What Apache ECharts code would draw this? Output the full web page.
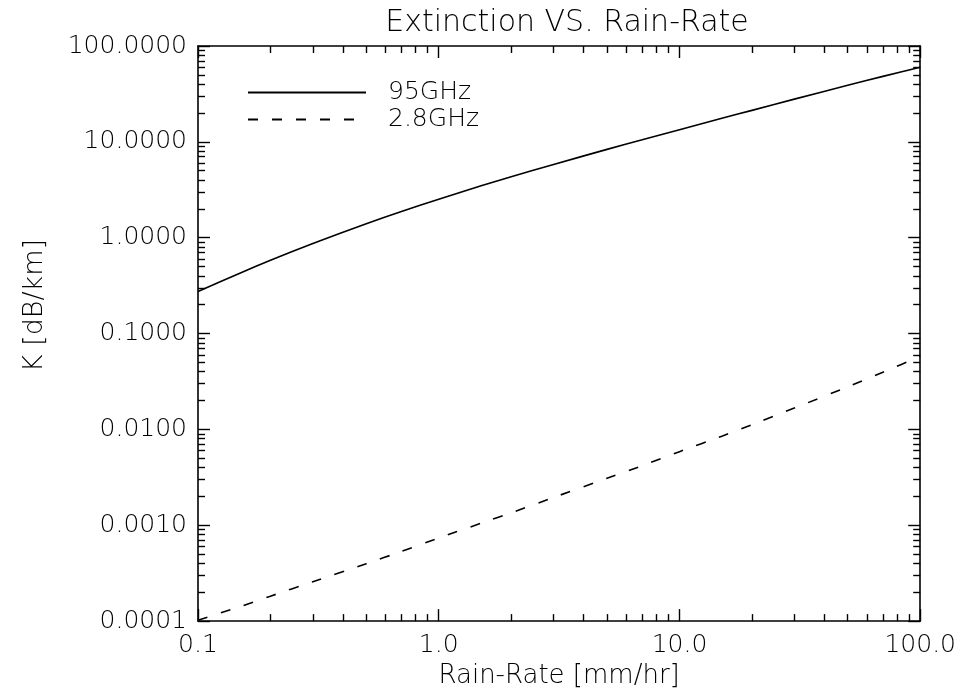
<!DOCTYPE html>
<html>
<head>
<meta charset="utf-8">
<script src="https://cdn.jsdelivr.net/npm/echarts@6/dist/echarts.min.js"></script>
<style>
  html, body { margin: 0; padding: 0; background: #fff; }
  #chart { width: 959px; height: 694px; }
</style>
</head>
<body>
<div id="chart"></div>
<script>
// rain rate [mm/hr]
var rainRate = [0.1, 0.15, 0.2, 0.3, 0.5, 0.7, 1, 1.5, 2, 3, 5, 7, 10, 15, 20, 30, 50, 70, 100]
// extinction K [dB/km]
var k95GHz = [0.275, 0.429, 0.581, 0.871, 1.40, 1.875, 2.52, 3.48, 4.32, 5.81, 8.35, 10.5, 13.4, 17.6, 21.3, 27.9, 38.9, 48.2, 60.0]
var k28GHz = [1.02e-4, 1.42e-4, 1.82e-4, 2.58e-4, 3.97e-4, 5.33e-4, 7.36e-4, 1.05e-3, 1.35e-3, 1.95e-3, 3.09e-3, 4.18e-3, 5.86e-3, 8.49e-3, 1.12e-2, 1.67e-2, 2.78e-2, 3.95e-2, 5.78e-2]

var xMajor = [0.1, 1, 10, 100]
var xMinor = [0.2, 0.3, 0.4, 0.5, 0.6, 0.7, 0.8, 0.9, 2, 3, 4, 5, 6, 7, 8, 9, 20, 30, 40, 50, 60, 70, 80, 90]
var yMajor = [0.0001, 0.001, 0.01, 0.1, 1, 10, 100]
var yMinor = []
yMajor.slice(0, -1).forEach(function (d) {
  for (var m = 2; m <= 9; m++) yMinor.push(+(d * m).toPrecision(2))
})

var font = 'DejaVu Sans'
var line = { color: '#000', width: 1.6 }

function axis(type, pos, min, max, ticks, len, withLabels) {
  return {
    type: 'log',
    logBase: 10,
    position: pos,
    min: min,
    max: max,
    axisLine: { show: len > 8, onZero: false, lineStyle: line },
    axisTick: { inside: true, length: len, customValues: ticks, lineStyle: { color: '#000', width: 1.4 } },
    axisLabel: withLabels ? {
      show: true,
      customValues: ticks,
      color: '#000',
      fontFamily: font,
      fontWeight: 200,
      fontSize: 25,
      margin: type === 'x' ? 12 : 11,
      formatter: function (v) { return type === 'x' ? v.toFixed(1) : v.toFixed(4) }
    } : { show: false },
    splitLine: { show: false },
    minorTick: { show: false }
  }
}

var xAxes = [
  axis('x', 'bottom', 0.1, 100, xMajor, 12, true),
  axis('x', 'bottom', 0.1, 100, xMinor, 7, false),
  axis('x', 'top', 0.1, 100, xMajor, 12, false),
  axis('x', 'top', 0.1, 100, xMinor, 7, false)
]
xAxes[0].name = 'Rain-Rate [mm/hr]'
xAxes[0].nameLocation = 'middle'
xAxes[0].nameGap = 41
xAxes[0].nameTextStyle = { color: '#000', fontFamily: font, fontWeight: 200, fontSize: 26 }

var yAxes = [
  axis('y', 'left', 0.0001, 100, yMajor, 12, true),
  axis('y', 'left', 0.0001, 100, yMinor, 7, false),
  axis('y', 'right', 0.0001, 100, yMajor, 12, false),
  axis('y', 'right', 0.0001, 100, yMinor, 7, false)
]
yAxes[0].name = 'K [dB/km]'
yAxes[0].nameLocation = 'middle'
yAxes[0].nameGap = 150
yAxes[0].nameTextStyle = { color: '#000', fontFamily: font, fontWeight: 200, fontSize: 27, padding: [0, 0, 0, 56] }

var chart = echarts.init(document.getElementById('chart'))
chart.setOption({
  animation: false,
  backgroundColor: '#fff',
  title: {
    text: 'Extinction VS. Rain-Rate',
    left: 562,
    textAlign: 'center',
    top: 3,
    textStyle: { color: '#000', fontFamily: font, fontSize: 30, fontWeight: 200 }
  },
  legend: {
    orient: 'vertical',
    left: 247,
    top: 80,
    padding: 0,
    itemWidth: 118,
    itemHeight: 14,
    itemGap: 2,
    itemStyle: { opacity: 0 },
    textStyle: { color: '#000', fontFamily: font, fontWeight: 200, fontSize: 25, padding: [0, 0, 0, 17] },
    data: [
      { name: '95GHz' },
      { name: '2.8GHz' }
    ]
  },
  grid: { left: 198, right: 34, top: 46, bottom: 72, containLabel: false },
  xAxis: xAxes,
  yAxis: yAxes,
  series: [
    {
      name: '95GHz',
      type: 'line',
      symbol: 'none',
      smooth: 0.2,
      data: rainRate.map(function (r, i) { return [r, k95GHz[i]] }),
      lineStyle: { color: '#000', width: 1.6, type: 'solid' },
      itemStyle: { color: '#000' }
    },
    {
      name: '2.8GHz',
      type: 'line',
      symbol: 'none',
      smooth: 0.2,
      data: rainRate.map(function (r, i) { return [r, k28GHz[i]] }),
      lineStyle: { color: '#000', width: 1.6, type: [10, 14] },
      itemStyle: { color: '#000' }
    }
  ]
})
</script>
</body>
</html>
